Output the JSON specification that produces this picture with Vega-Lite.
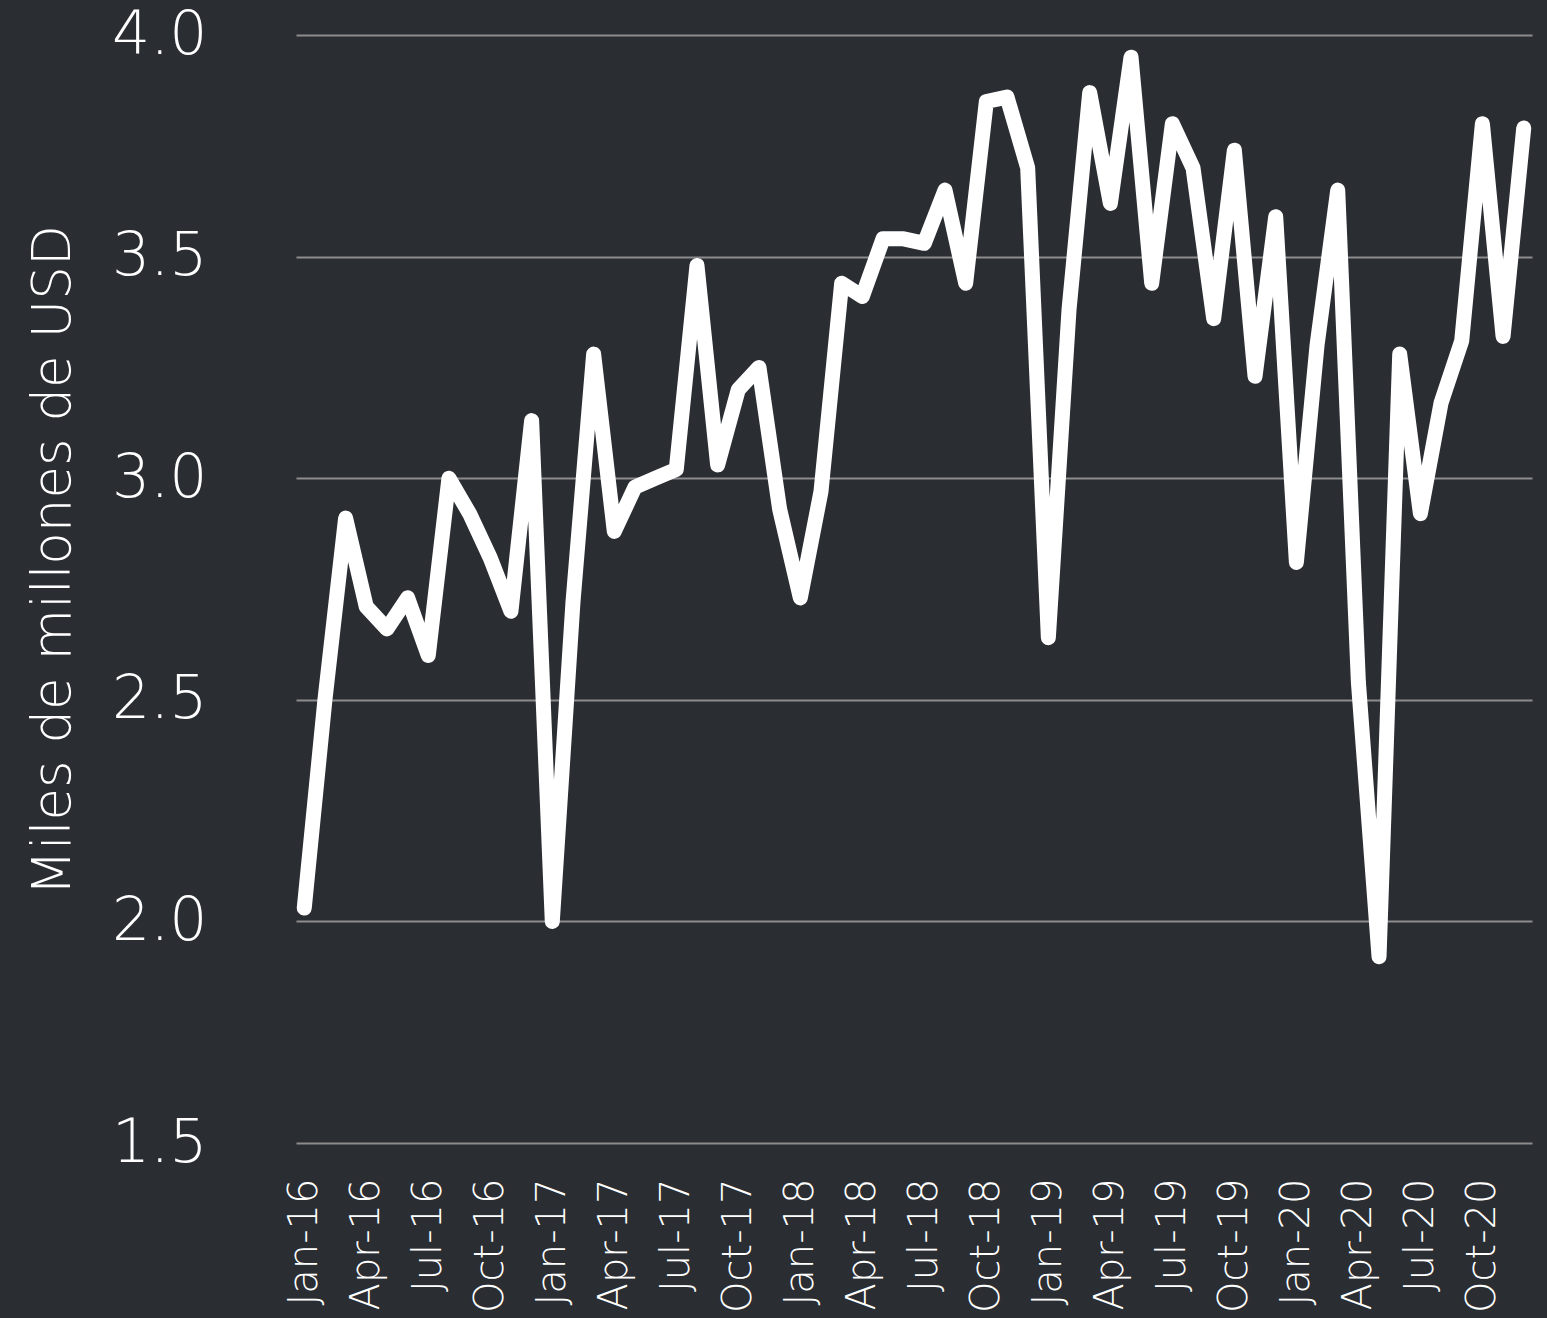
{
  "$schema": "https://vega.github.io/schema/vega-lite/v6.json",
  "width": 1236,
  "height": 1108,
  "autosize": {"type": "none"},
  "padding": {"left": 296, "top": 35, "right": 15, "bottom": 175},
  "background": "#2a2d32",
  "config": {
    "view": {"stroke": null},
    "font": "DejaVu Sans"
  },
  "data": {
    "values": [
      {"month": "Jan-16", "value": 2.03},
      {"month": "Feb-16", "value": 2.50},
      {"month": "Mar-16", "value": 2.91},
      {"month": "Apr-16", "value": 2.71},
      {"month": "May-16", "value": 2.66},
      {"month": "Jun-16", "value": 2.73},
      {"month": "Jul-16", "value": 2.60},
      {"month": "Aug-16", "value": 3.00},
      {"month": "Sep-16", "value": 2.92},
      {"month": "Oct-16", "value": 2.82},
      {"month": "Nov-16", "value": 2.70},
      {"month": "Dec-16", "value": 3.13},
      {"month": "Jan-17", "value": 2.00},
      {"month": "Feb-17", "value": 2.72},
      {"month": "Mar-17", "value": 3.28},
      {"month": "Apr-17", "value": 2.88},
      {"month": "May-17", "value": 2.98},
      {"month": "Jun-17", "value": 3.00},
      {"month": "Jul-17", "value": 3.02},
      {"month": "Aug-17", "value": 3.48},
      {"month": "Sep-17", "value": 3.03},
      {"month": "Oct-17", "value": 3.20},
      {"month": "Nov-17", "value": 3.25},
      {"month": "Dec-17", "value": 2.93},
      {"month": "Jan-18", "value": 2.73},
      {"month": "Feb-18", "value": 2.97},
      {"month": "Mar-18", "value": 3.44},
      {"month": "Apr-18", "value": 3.41},
      {"month": "May-18", "value": 3.54},
      {"month": "Jun-18", "value": 3.54},
      {"month": "Jul-18", "value": 3.53},
      {"month": "Aug-18", "value": 3.65},
      {"month": "Sep-18", "value": 3.44},
      {"month": "Oct-18", "value": 3.85},
      {"month": "Nov-18", "value": 3.86},
      {"month": "Dec-18", "value": 3.70},
      {"month": "Jan-19", "value": 2.64},
      {"month": "Feb-19", "value": 3.38},
      {"month": "Mar-19", "value": 3.87},
      {"month": "Apr-19", "value": 3.62},
      {"month": "May-19", "value": 3.95},
      {"month": "Jun-19", "value": 3.44},
      {"month": "Jul-19", "value": 3.80},
      {"month": "Aug-19", "value": 3.70},
      {"month": "Sep-19", "value": 3.36},
      {"month": "Oct-19", "value": 3.74},
      {"month": "Nov-19", "value": 3.23},
      {"month": "Dec-19", "value": 3.59},
      {"month": "Jan-20", "value": 2.81},
      {"month": "Feb-20", "value": 3.30},
      {"month": "Mar-20", "value": 3.65},
      {"month": "Apr-20", "value": 2.54},
      {"month": "May-20", "value": 1.92},
      {"month": "Jun-20", "value": 3.28},
      {"month": "Jul-20", "value": 2.92},
      {"month": "Aug-20", "value": 3.17},
      {"month": "Sep-20", "value": 3.31},
      {"month": "Oct-20", "value": 3.80},
      {"month": "Nov-20", "value": 3.32},
      {"month": "Dec-20", "value": 3.79}
    ]
  },
  "mark": {"type": "line", "color": "#ffffff", "strokeWidth": 15, "strokeJoin": "round", "strokeCap": "round"},
  "encoding": {
    "x": {
      "field": "month",
      "type": "ordinal",
      "sort": null,
      "scale": {"type": "point", "padding": 0.4},
      "axis": {
        "title": null,
        "values": ["Jan-16","Apr-16","Jul-16","Oct-16","Jan-17","Apr-17","Jul-17","Oct-17","Jan-18","Apr-18","Jul-18","Oct-18","Jan-19","Apr-19","Jul-19","Oct-19","Jan-20","Apr-20","Jul-20","Oct-20"],
        "labelAngle": -90,
        "labelAlign": "right",
        "labelBaseline": "middle",
        "labelPadding": 35,
        "labelFontSize": 40,
        "labelFontWeight": 200,
        "labelColor": "#ffffff",
        "ticks": false,
        "domain": false,
        "grid": false
      }
    },
    "y": {
      "field": "value",
      "type": "quantitative",
      "scale": {"domain": [1.5, 4.0], "nice": false, "zero": false},
      "axis": {
        "title": "Miles de millones de USD",
        "titleFontSize": 53,
        "titleFontWeight": 200,
        "titleColor": "#ffffff",
        "titleAngle": -90,
        "titleX": -243,
        "titleY": 525,
        "titleAlign": "center",
        "titleBaseline": "middle",
        "values": [1.5, 2.0, 2.5, 3.0, 3.5, 4.0],
        "format": ".1f",
        "labelFontSize": 60,
        "labelFontWeight": 200,
        "labelColor": "#ffffff",
        "labelPadding": 89,
        "ticks": false,
        "domain": false,
        "grid": true,
        "gridColor": "#8c8c8c",
        "gridWidth": 2
      }
    }
  }
}
